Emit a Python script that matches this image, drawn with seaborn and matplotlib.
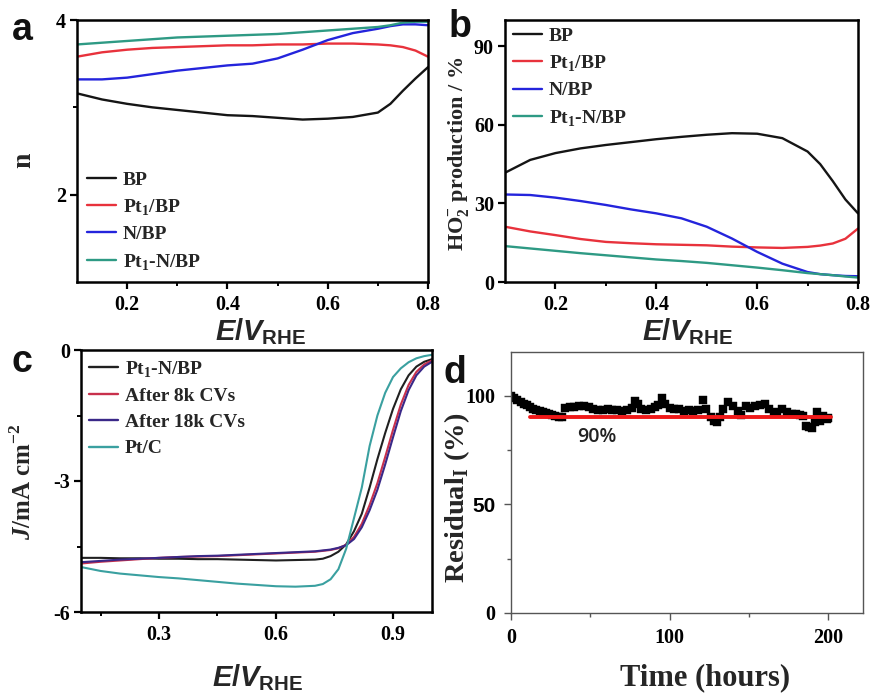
import numpy as np
import pandas as pd
import matplotlib
matplotlib.use("Agg")
import matplotlib.pyplot as plt
import seaborn as sns
from matplotlib.ticker import FixedLocator

# ---------------- data ----------------
# panel a: electron transfer number n vs E
E_ab = [0.10, 0.15, 0.20, 0.25, 0.30, 0.35, 0.40, 0.45, 0.50, 0.55, 0.60, 0.65, 0.70, 0.725, 0.75, 0.775, 0.80]
n_BP = [3.16, 3.09, 3.04, 3.00, 2.97, 2.94, 2.91, 2.90, 2.88, 2.86, 2.87, 2.89, 2.94, 3.04, 3.19, 3.33, 3.46]
n_Pt1BP = [3.58, 3.63, 3.66, 3.68, 3.69, 3.70, 3.71, 3.71, 3.72, 3.72, 3.73, 3.73, 3.72, 3.71, 3.69, 3.65, 3.58]
n_NBP = [3.32, 3.32, 3.34, 3.38, 3.42, 3.45, 3.48, 3.50, 3.56, 3.66, 3.77, 3.85, 3.90, 3.93, 3.95, 3.95, 3.94]
n_Pt1NBP = [3.72, 3.74, 3.76, 3.78, 3.80, 3.81, 3.82, 3.83, 3.84, 3.86, 3.88, 3.90, 3.92, 3.94, 3.97, 3.98, 3.98]

# panel b: HO2- production (%)
h_BP = [41.7, 46.6, 49.2, 51.0, 52.3, 53.4, 54.5, 55.4, 56.2, 56.8, 56.6, 54.9, 49.8, 45.0, 38.5, 31.5, 26.2]
h_Pt1BP = [21.1, 19.3, 17.9, 16.4, 15.3, 14.8, 14.4, 14.2, 14.0, 13.5, 13.2, 13.0, 13.4, 13.9, 14.7, 16.5, 20.4]
h_NBP = [33.4, 33.2, 32.2, 30.9, 29.4, 27.7, 26.2, 24.3, 21.1, 16.6, 11.5, 7.0, 3.8, 3.0, 2.6, 2.3, 2.2]
h_Pt1NBP = [13.7, 12.8, 11.9, 11.0, 10.2, 9.4, 8.6, 8.0, 7.3, 6.4, 5.5, 4.5, 3.4, 3.0, 2.6, 2.1, 1.7]
ab_samples = ["BP", "Pt$_\\mathrm{1}$/BP", "N/BP", "Pt$_\\mathrm{1}$-N/BP"]
ab_colors = ["#151515", "#e8323c", "#2424dc", "#2e9a84"]

# panel c: LSV curves
E_c = [0.10, 0.15, 0.20, 0.25, 0.30, 0.35, 0.40, 0.45, 0.50, 0.55, 0.60, 0.65, 0.70, 0.72, 0.74,
       0.76, 0.78, 0.80, 0.82, 0.84, 0.86, 0.88, 0.90, 0.92, 0.94, 0.96, 0.98, 1.00]
J_Pt1NBP = [-4.76, -4.76, -4.77, -4.77, -4.78, -4.78, -4.79, -4.79, -4.80, -4.81, -4.82, -4.81, -4.80, -4.78,
            -4.72, -4.62, -4.45, -4.15, -3.75, -3.15, -2.50, -1.90, -1.35, -0.90, -0.58, -0.38, -0.27, -0.21]
J_8k = [-4.89, -4.85, -4.82, -4.79, -4.76, -4.74, -4.73, -4.72, -4.70, -4.68, -4.66, -4.64, -4.62, -4.60,
        -4.58, -4.54, -4.46, -4.28, -3.98, -3.55, -3.05, -2.45, -1.83, -1.25, -0.80, -0.50, -0.33, -0.24]
J_18k = [-4.86, -4.83, -4.80, -4.78, -4.76, -4.74, -4.72, -4.71, -4.69, -4.67, -4.65, -4.63, -4.61, -4.59,
         -4.57, -4.53, -4.47, -4.33, -4.06, -3.67, -3.20, -2.62, -2.00, -1.40, -0.92, -0.58, -0.38, -0.27]
J_PtC = [-4.97, -5.06, -5.12, -5.16, -5.20, -5.23, -5.27, -5.31, -5.35, -5.38, -5.41, -5.42, -5.40, -5.36,
         -5.25, -5.02, -4.55, -3.85, -3.15, -2.20, -1.50, -0.98, -0.62, -0.42, -0.28, -0.19, -0.14, -0.11]
c_samples = ["Pt$_\\mathrm{1}$-N/BP", "After 8k CVs", "After 18k CVs", "Pt/C"]
c_colors = ["#202020", "#c8304c", "#3a2888", "#3aa0a0"]

# panel d: stability
t_hours = [0, 2, 4, 6, 8, 10, 12, 14, 16, 18, 20, 22, 24, 26, 28, 30, 32, 34, 37, 40, 43, 46, 49, 52, 55,
           58, 61, 64, 67, 70, 73, 76, 78, 80, 82, 85, 88, 91, 93, 95, 97, 100, 103, 106, 109, 112, 115,
           118, 121, 123, 126, 128, 130, 132, 134, 137, 140, 143, 145, 148, 151, 154, 157, 160, 163, 166,
           168, 171, 174, 177, 180, 182, 184, 186, 188, 190, 192, 193, 195, 197, 199, 200]
residual = [100, 98.8, 97.8, 97.0, 96.3, 95.5, 94.8, 94.0, 93.4, 92.8, 92.3, 91.8, 91.3, 90.9, 90.6, 90.3,
            90.0, 94.3, 94.6, 94.9, 95.0, 95.2, 94.8, 93.8, 93.5, 93.3, 93.6, 93.2, 93.4, 93.0, 93.5, 94.4,
            97.7, 96.3, 94.0, 93.2, 93.8, 94.5, 95.8, 99.0, 96.0, 94.2, 93.8, 94.0, 92.8, 93.3, 93.0, 93.4,
            98.0, 94.0, 90.2, 88.5, 88.0, 90.0, 93.8, 96.8, 95.0, 93.0, 91.2, 95.0, 94.2, 95.0, 95.5, 96.2,
            93.6, 92.5, 91.8, 94.0, 92.2, 91.6, 91.4, 91.0, 90.5, 86.2, 85.5, 85.0, 87.8, 92.6, 88.2, 90.5,
            89.0, 89.5]
ref_x = [12, 202]
ref_y = [90, 90]
ref_text = "90%"

# ---------------- style ----------------
sns.set_theme(style="ticks")
plt.rcParams.update({
    "font.family": ["Liberation Serif", "DejaVu Serif"],
    "font.weight": "bold",
    "axes.labelweight": "bold",
    "mathtext.fontset": "custom",
    "mathtext.rm": "Liberation Serif:bold",
    "mathtext.it": "Liberation Sans:italic:bold",
    "mathtext.sf": "Liberation Sans:bold",
    "mathtext.bf": "Liberation Serif:italic:bold",
    "axes.linewidth": 1.6,
    "axes.edgecolor": "black",
    "xtick.color": "black",
    "ytick.color": "black",
    "xtick.major.size": 5,
    "ytick.major.size": 5,
    "xtick.minor.size": 3,
    "ytick.minor.size": 3,
    "xtick.major.width": 1.6,
    "ytick.major.width": 1.6,
    "xtick.minor.width": 1.4,
    "ytick.minor.width": 1.4,
    "xtick.direction": "out",
    "ytick.direction": "out",
    "xtick.labelsize": 14.5,
    "ytick.labelsize": 14.5,
})

W, H = 874, 695
fig = plt.figure(figsize=(W / 100, H / 100), dpi=100)


def add_ax(l, t, r, b):
    return fig.add_axes([l / W, 1 - b / H, (r - l) / W, (b - t) / H])


ax_a = add_ax(77, 20, 428, 282)
ax_b = add_ax(505, 20, 858, 282)
ax_c = add_ax(81, 350, 432, 612)
ax_d = add_ax(511, 352, 863, 613)

ev_label = r"$\mathit{E}\mathsf{/}\mathit{V}_{\mathsf{RHE}}$"
leg_kw = dict(frameon=False, title=None, handlelength=1.5, handletextpad=0.35,
              labelspacing=0.44, borderpad=0, borderaxespad=0,
              prop={"family": "Liberation Serif", "weight": "bold", "size": 14})


def long_df(x, series, names, yname):
    frames = [pd.DataFrame({"x": x, yname: s, "sample": nm}) for s, nm in zip(series, names)]
    return pd.concat(frames, ignore_index=True)


def fix_legend(ax, lw):
    leg = ax.get_legend()
    for h in leg.legend_handles:
        h.set_linewidth(lw)


# ---- panel a ----
df_a = long_df(E_ab, [n_BP, n_Pt1BP, n_NBP, n_Pt1NBP], ab_samples, "n")
sns.lineplot(data=df_a, x="x", y="n", hue="sample", hue_order=ab_samples,
             palette=ab_colors, estimator=None, sort=False, linewidth=1.7, ax=ax_a)
ax_a.set_xlim(0.1, 0.8)
ax_a.set_ylim(1, 4)
ax_a.xaxis.set_major_locator(FixedLocator([0.2, 0.4, 0.6, 0.8]))
ax_a.xaxis.set_minor_locator(FixedLocator([0.3, 0.5, 0.7]))
ax_a.yaxis.set_major_locator(FixedLocator([2, 4]))
ax_a.yaxis.set_minor_locator(FixedLocator([3]))
sns.move_legend(ax_a, "upper left", bbox_to_anchor=(0.028, 0.424), **leg_kw)
fix_legend(ax_a, 1.7)

# ---- panel b ----
df_b = long_df(E_ab, [h_BP, h_Pt1BP, h_NBP, h_Pt1NBP], ab_samples, "h")
sns.lineplot(data=df_b, x="x", y="h", hue="sample", hue_order=ab_samples,
             palette=ab_colors, estimator=None, sort=False, linewidth=1.7, ax=ax_b)
ax_b.set_xlim(0.1, 0.8)
ax_b.set_ylim(0, 100)
ax_b.xaxis.set_major_locator(FixedLocator([0.2, 0.4, 0.6, 0.8]))
ax_b.xaxis.set_minor_locator(FixedLocator([0.3, 0.5, 0.7]))
ax_b.yaxis.set_major_locator(FixedLocator([0, 30, 60, 90]))
sns.move_legend(ax_b, "upper left", bbox_to_anchor=(0.023, 0.973), **leg_kw)
fix_legend(ax_b, 1.7)

# ---- panel c ----
df_c = long_df(E_c, [J_Pt1NBP, J_8k, J_18k, J_PtC], c_samples, "J")
sns.lineplot(data=df_c, x="x", y="J", hue="sample", hue_order=c_samples,
             palette=c_colors, estimator=None, sort=False, linewidth=1.5, ax=ax_c)
ax_c.set_xlim(0.1, 1.0)
ax_c.set_ylim(-6, 0)
ax_c.xaxis.set_major_locator(FixedLocator([0.3, 0.6, 0.9]))
ax_c.xaxis.set_minor_locator(FixedLocator([0.15, 0.45, 0.75]))
ax_c.yaxis.set_major_locator(FixedLocator([-6, -3, 0]))
ax_c.yaxis.set_minor_locator(FixedLocator([-4.5, -1.5]))
sns.move_legend(ax_c, "upper left", bbox_to_anchor=(0.023, 0.966), **leg_kw)
fix_legend(ax_c, 1.7)

for ax in (ax_a, ax_b, ax_c):
    ax.tick_params(axis="both", which="both", top=False, right=False)
    ax.tick_params(axis="x", which="major", pad=4)
    ax.tick_params(axis="y", which="major", pad=3)
    for sp in ax.spines.values():
        sp.set_linewidth(1.8)
    ax.set_xticklabels([f"{v:g}" for v in ax.get_xticks()])
ax_a.set_yticklabels(["2", "4"])
ax_b.set_yticklabels(["0", "30", "60", "90"])
ax_c.set_yticklabels(["-6", "-3", "0"])

# ---- panel d ----
sns.scatterplot(x=t_hours, y=residual, marker="s", s=27, color="black",
                edgecolor="black", linewidth=0.3, ax=ax_d, zorder=2)
sns.lineplot(x=ref_x, y=ref_y, color="#f01818", linewidth=2.8, ax=ax_d, zorder=3)
ax_d.text(54, 81, ref_text, fontsize=14, fontweight="semibold", family=["Open Sans", "DejaVu Sans"],
          color="#222222", ha="center", va="center")
ax_d.set_xlim(0, 222)
ax_d.set_ylim(0, 120)
ax_d.xaxis.set_major_locator(FixedLocator([0, 100, 200]))
ax_d.xaxis.set_minor_locator(FixedLocator([50, 150]))
ax_d.set_yticks([0, 50, 100], labels=["0", "50", "100"])
ax_d.yaxis.set_minor_locator(FixedLocator([25, 75]))
ax_d.set_xticklabels(["0", "100", "200"])
for sp in ax_d.spines.values():
    sp.set_linewidth(1.0)
    sp.set_color("#555555")
ax_d.tick_params(axis="both", which="both", colors="#555555", labelcolor="black", width=1.0,
                 top=False, right=False)
ax_d.tick_params(axis="x", which="major", pad=6)
ax_d.tick_params(axis="y", which="major", pad=6)
for lbl in ax_d.get_yticklabels():
    if lbl.get_text() == "50":
        lbl.set_fontfamily("Liberation Sans")
        lbl.set_fontsize(15)

# ---- axis labels ----
for ax, (x, y) in ((ax_a, (0.524, -0.221)), (ax_b, (0.518, -0.221)), (ax_c, (0.503, -0.283))):
    ax.set_xlabel(ev_label, fontsize=21)
    ax.xaxis.set_label_coords(x, y)
    ax.xaxis.label.set_va("baseline")

ax_d.set_xlabel("Time (hours)", fontsize=22, fontweight="bold")
ax_d.xaxis.set_label_coords(0.551, -0.276)
ax_d.xaxis.label.set_va("baseline")

ax_a.set_ylabel("n", fontsize=20)
ax_a.yaxis.set_label_coords(-0.115, 0.466)
ax_b.set_ylabel("HO$_\\mathrm{2}^{\\mathrm{-}}$ production / %", fontsize=16)
ax_b.yaxis.set_label_coords(-0.097, 0.49)
ax_c.set_ylabel("$\\mathbf{J}$/mA cm$^{\\mathrm{-2}}$", fontsize=18)
ax_c.yaxis.set_label_coords(-0.128, 0.496)
ax_d.set_ylabel("Residual$_\\mathrm{I}$ (%)", fontsize=20.5)
ax_d.yaxis.set_label_coords(-0.111, 0.44)

# ---- panel letters ----
for letter, (px, py) in (("a", (22, 40)), ("b", (460, 37)), ("c", (22, 372)), ("d", (455, 383))):
    fig.text(px / W, 1 - py / H, letter, fontsize=27, fontweight="bold",
             family=["Liberation Sans", "DejaVu Sans"], ha="center", va="baseline", color="#111111")

fig.savefig("out.png", dpi=100)
